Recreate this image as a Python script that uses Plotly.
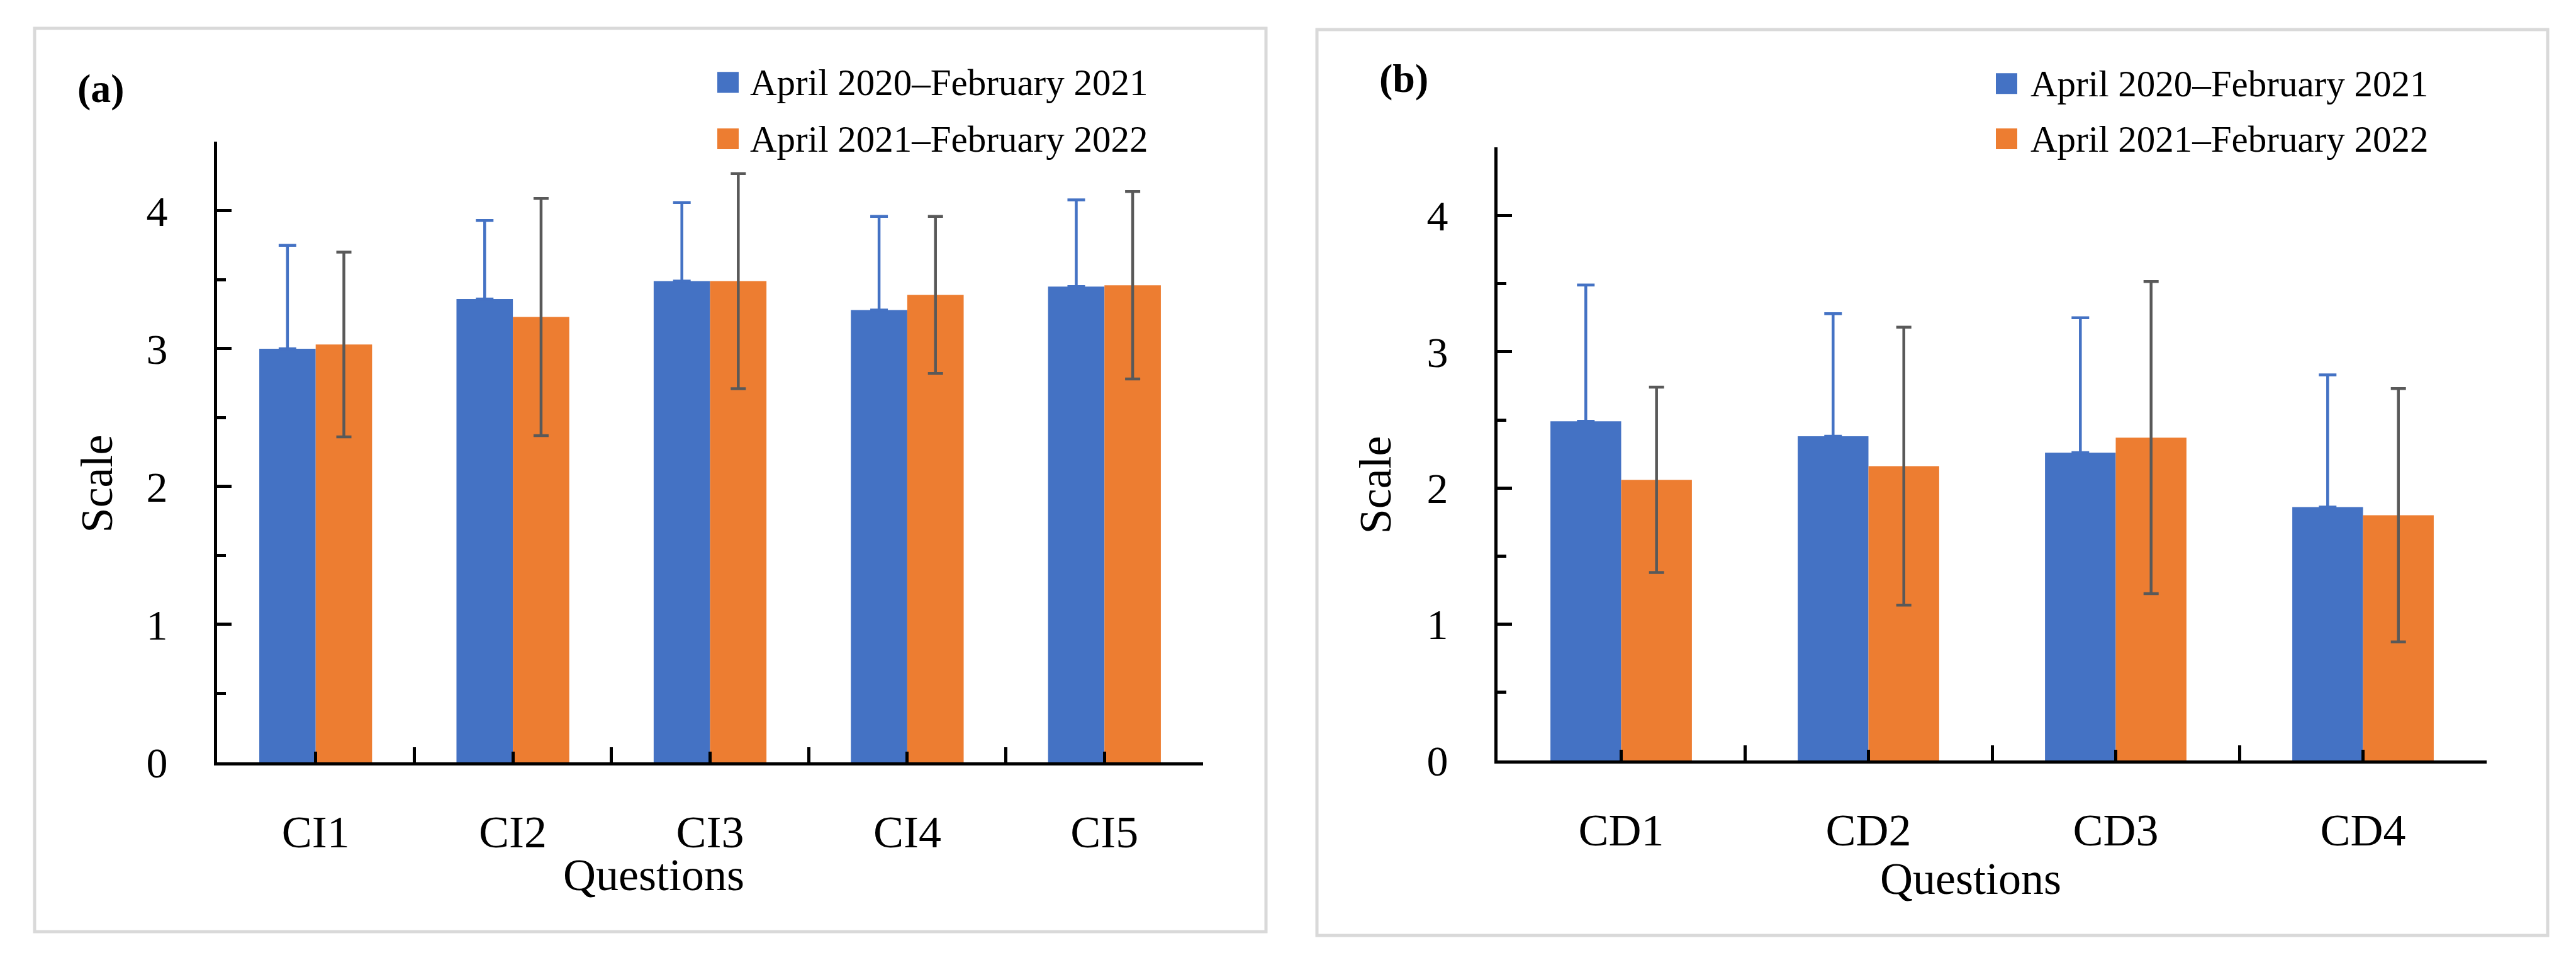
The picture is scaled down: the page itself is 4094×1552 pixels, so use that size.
import plotly.graph_objects as go

# ---------------- data ----------------
cats_a = ["CI1", "CI2", "CI3", "CI4", "CI5"]
mean_a_2020 = [3.00, 3.36, 3.49, 3.28, 3.45]
sd_a_2020 = [0.75, 0.57, 0.57, 0.68, 0.63]
mean_a_2021 = [3.03, 3.23, 3.49, 3.39, 3.46]
sd_a_2021 = [0.67, 0.86, 0.78, 0.57, 0.68]

cats_b = ["CD1", "CD2", "CD3", "CD4"]
mean_b_2020 = [2.49, 2.38, 2.26, 1.86]
sd_b_2020 = [1.00, 0.90, 0.99, 0.97]
mean_b_2021 = [2.06, 2.16, 2.37, 1.80]
sd_b_2021 = [0.68, 1.02, 1.145, 0.93]

series_names = ["April 2020\u2013February 2021", "April 2021\u2013February 2022"]
y_ticks = [0, 1, 2, 3, 4]

# ---------------- style ----------------
W, H = 4094, 1552
BLUE = "#4472C4"
ORANGE = "#ED7D31"
GRAY = "#595959"
FONT = "Liberation Serif"


def px(x):
    return x / W


def py(y):
    return 1 - y / H


fig = go.Figure()

panels = [
    dict(cats=cats_a, m1=mean_a_2020, s1=sd_a_2020, m2=mean_a_2021, s2=sd_a_2021,
         xa="x", ya="y", xdom=[px(337), px(1904)], ydom=[py(1234), py(223)]),
    dict(cats=cats_b, m1=mean_b_2020, s1=sd_b_2020, m2=mean_b_2021, s2=sd_b_2021,
         xa="x2", ya="y2", xdom=[px(2372), px(3944)], ydom=[py(1231), py(232)]),
]

for p in panels:
    xs = list(range(len(p["cats"])))
    fig.add_trace(go.Bar(
        x=xs, y=p["m1"], name=series_names[0], marker=dict(color=BLUE, line=dict(width=0)),
        xaxis=p["xa"], yaxis=p["ya"], showlegend=False, offsetgroup="a",
        error_y=dict(type="data", symmetric=False, array=p["s1"], arrayminus=[0] * len(xs),
                     color=BLUE, thickness=4.5, width=14),
    ))
    fig.add_trace(go.Bar(
        x=xs, y=p["m2"], name=series_names[1], marker=dict(color=ORANGE, line=dict(width=0)),
        xaxis=p["xa"], yaxis=p["ya"], showlegend=False, offsetgroup="b",
        error_y=dict(type="data", symmetric=True, array=p["s2"],
                     color=GRAY, thickness=4.5, width=12),
    ))

layout_axes = {}
for i, p in enumerate(panels):
    n = len(p["cats"])
    sfx = "" if i == 0 else "2"
    layout_axes["xaxis" + sfx] = dict(
        domain=p["xdom"], range=[-0.5, n - 0.5], anchor="y" + sfx,
        tickmode="array", tickvals=list(range(n)), ticktext=p["cats"],
        ticks="inside", ticklen=17, tickwidth=5, tickcolor="black",
        showline=True, linecolor="black", linewidth=5,
        showgrid=False, zeroline=False, fixedrange=True,
        tickfont=dict(family=FONT, size=72, color="black"),
        ticklabelstandoff=44,
        minor=dict(tickmode="array", tickvals=[k - 0.5 for k in range(n + 1)],
                   ticks="inside", ticklen=24, tickwidth=5, tickcolor="black", showgrid=False),
    )
    layout_axes["yaxis" + sfx] = dict(
        domain=p["ydom"], range=[0, 4.5], anchor="x" + sfx,
        tickmode="array", tickvals=y_ticks,
        ticks="inside", ticklen=23, tickwidth=5, tickcolor="black",
        showline=True, linecolor="black", linewidth=5,
        showgrid=False, zeroline=False, fixedrange=True,
        tickfont=dict(family=FONT, size=68, color="black"),
        ticklabelstandoff=60,
        minor=dict(dtick=0.5, tick0=0.5, ticks="inside", ticklen=14, tickwidth=5,
                   tickcolor="black", showgrid=False),
    )

shapes = []
annotations = []

# panel frames
for (x0, x1, y0, y1) in [(47, 2004, 38, 1510), (2085, 4041, 40, 1516)]:
    shapes.append(dict(type="rect", xref="paper", yref="paper",
                       x0=px(x0), x1=px(x1), y0=py(y1), y1=py(y0),
                       line=dict(color="#D9D9D9", width=5), fillcolor="rgba(0,0,0,0)"))

# legends (manual, large square swatches)
for (sx, tx, ys) in [(1132, 1182, [126, 218]), (3164, 3217, [128, 218])]:
    for name, col, yc in zip(series_names, [BLUE, ORANGE], ys):
        shapes.append(dict(type="rect", xref="paper", yref="paper",
                           x0=px(sx), x1=px(sx + 34), y0=py(yc + 17), y1=py(yc - 17),
                           line=dict(width=0), fillcolor=col))
        annotations.append(dict(text=name, xref="paper", yref="paper", x=px(tx), y=py(yc),
                                xanchor="left", yanchor="middle", showarrow=False,
                                font=dict(family=FONT, size=59, color="black")))

# panel labels
annotations.append(dict(text="<b>(a)</b>", xref="paper", yref="paper", x=px(113), y=py(136),
                        xanchor="left", yanchor="middle", showarrow=False,
                        font=dict(family=FONT, size=64, color="black")))
annotations.append(dict(text="<b>(b)</b>", xref="paper", yref="paper", x=px(2182), y=py(120),
                        xanchor="left", yanchor="middle", showarrow=False,
                        font=dict(family=FONT, size=64, color="black")))

# axis titles
for (qx, qy, sx, sy) in [(1031, 1418, 146, 780), (3124, 1424, 2178, 782)]:
    annotations.append(dict(text="Questions", xref="paper", yref="paper", x=px(qx), y=py(qy),
                            xanchor="center", yanchor="middle", showarrow=False,
                            font=dict(family=FONT, size=72, color="black")))
    annotations.append(dict(text="Scale", xref="paper", yref="paper", x=px(sx), y=py(sy),
                            xanchor="center", yanchor="middle", showarrow=False, textangle=-90,
                            font=dict(family=FONT, size=72, color="black")))

fig.update_layout(
    width=W, height=H, margin=dict(l=0, r=0, t=0, b=0),
    paper_bgcolor="white", plot_bgcolor="white",
    barmode="group", bargap=0.428, bargroupgap=0,
    showlegend=False, shapes=shapes, annotations=annotations,
    **layout_axes,
)

fig.write_html("out.html")
